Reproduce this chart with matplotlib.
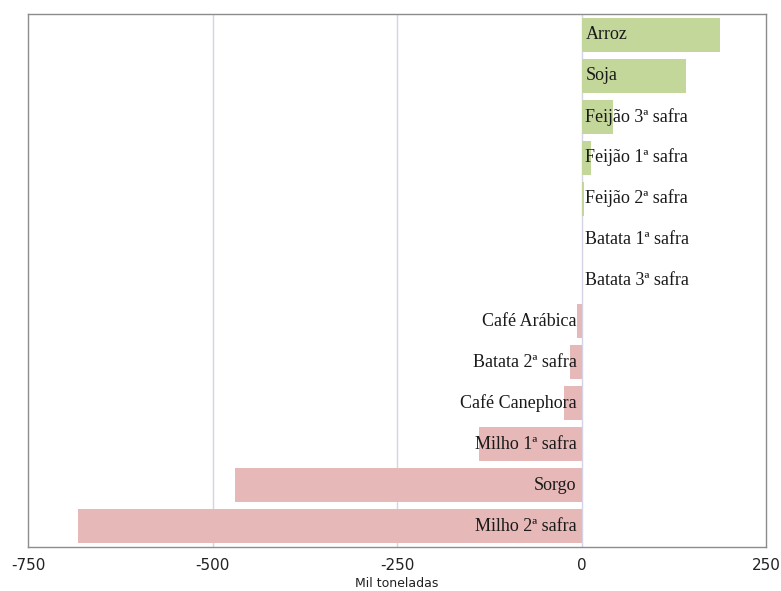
import matplotlib
matplotlib.use('Agg')
import matplotlib.pyplot as plt

# data (mil toneladas), top to bottom
culturas = ["Arroz", "Soja", "Feijão 3ª safra", "Feijão 1ª safra", "Feijão 2ª safra",
            "Batata 1ª safra", "Batata 3ª safra", "Café Arábica", "Batata 2ª safra",
            "Café Canephora", "Milho 1ª safra", "Sorgo", "Milho 2ª safra"]
variacao = [188, 141, 42, 13, 3, 0, 0, -6, -16, -24, -139, -470, -682]
xticks = [-750, -500, -250, 0, 250]

verde = "#c4d79b"
rosa = "#e6b8b7"

fig = plt.figure(figsize=(7.81, 5.91), dpi=100)
ax = fig.add_axes([0.036, 0.075, 0.945, 0.901])

y = list(range(len(culturas)))
cores = [verde if v >= 0 else rosa for v in variacao]
ax.barh(y, variacao, height=0.83, color=cores, zorder=2)

for yi, nome, v in zip(y, culturas, variacao):
    if v >= 0:
        ax.text(5, yi, nome, ha='left', va='center', fontsize=13,
                family='Liberation Serif', color='#1a1a1a', zorder=3)
    else:
        ax.text(-7, yi, nome, ha='right', va='center', fontsize=13,
                family='Liberation Serif', color='#1a1a1a', zorder=3)

ax.set_xlim(-750, 250)
ax.set_ylim(len(culturas) - 0.5, -0.5)
ax.set_xticks(xticks)
ax.set_xticklabels([str(t) for t in xticks], fontsize=11, color='#222222')
ax.set_yticks([])
ax.tick_params(axis='x', length=0, pad=8)
for t in [-500, -250, 0]:
    ax.axvline(t, color='#d4d4e6', lw=1, zorder=1)
for s in ax.spines.values():
    s.set_color('#8c8c8c')
    s.set_linewidth(1)

ax.set_xlabel("Mil toneladas", fontsize=9, color='#222222', labelpad=3)

fig.savefig("out.png", dpi=100)
